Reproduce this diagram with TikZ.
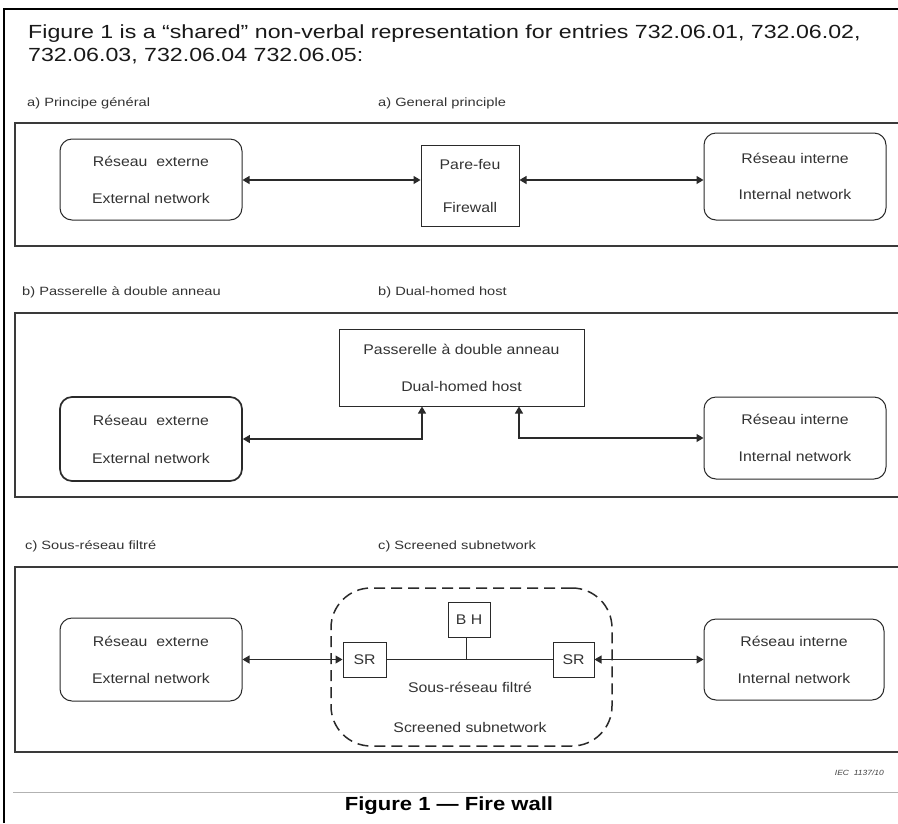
\documentclass[tikz,border=0pt]{standalone}
\usepackage{fontspec}
\setmainfont{Liberation Sans}
\newfontfamily\dfont[FakeStretch=1.13]{Liberation Sans}
\newfontfamily\sfontx[FakeStretch=1.22]{Liberation Sans}
\newfontfamily\hfont[FakeStretch=1.16]{Liberation Sans}
\newfontfamily\hhfont[FakeStretch=1.22]{Liberation Sans}
\usetikzlibrary{arrows.meta,calc}
\definecolor{lc}{HTML}{2A2A2A}
\definecolor{tc}{HTML}{333333}
\definecolor{pc}{HTML}{3A3A3A}
\begin{document}
\begin{tikzpicture}[x=1pt,y=-1pt,
  box/.style={draw=lc, line width=1pt, align=center, font=\dfont\fontsize{14}{37}\selectfont, text=tc, inner sep=0pt},
  rbox/.style={box, rounded corners=12pt},
  smallbox/.style={box, font=\dfont\fontsize{14}{16}\selectfont},
  arr/.style={line width=1.1pt, draw=lc, {Triangle[length=7pt,width=8pt]}-{Triangle[length=7pt,width=8pt]}},
  panel/.style={draw=pc, line width=1.3pt},
  sec/.style={font=\sfontx\fontsize{12}{14}\selectfont, text=tc, anchor=west, inner sep=0pt},
  head/.style={font=\hhfont\fontsize{19}{21}\selectfont, text=black!90, anchor=west, inner sep=0pt},
]
\useasboundingbox (0,0) rectangle (898,823);
\fill[white] (0,0) rectangle (898,823);
% outer frame
\draw[line width=2pt, black] (4,823) -- (4,9) -- (900,9);
% header
\node[head] (h1) at (28,34) {Figure 1 is a “shared” non-verbal representation for entries 732.06.01, 732.06.02,};
\node[head] (h2) at (28,56) {732.06.03, 732.06.04 732.06.05:};
% ---------- panel a
\node[sec] (la1) at (27,103) {a) Principe général};
\node[sec] (la2) at (378,103) {a) General principle};
\draw[panel] (902,123) -- (15,123) -- (15,246) -- (902,246);
\node[rbox, minimum width=182pt, minimum height=81pt] (extA) at (151,179.5) {Réseau\ \ externe\\External network};
\node[box, minimum width=98pt, minimum height=81pt, font=\dfont\fontsize{14}{43}\selectfont] (fwA) at (470,185.5) {Pare-feu\\Firewall};
\node[rbox, minimum width=182pt, minimum height=87pt, font=\dfont\fontsize{14}{36}\selectfont] (intA) at (795,176.5) {Réseau interne\\Internal network};
\draw[arr] (extA.east |- 0,180) -- (fwA.west |- 0,180);
\draw[arr] (fwA.east |- 0,180) -- (intA.west |- 0,180);
% ---------- panel b
\node[sec] (lb1) at (22,292) {b) Passerelle à double anneau};
\node[sec] (lb2) at (378,292) {b) Dual-homed host};
\draw[panel] (902,313) -- (15,313) -- (15,497) -- (902,497);
\node[box, minimum width=245pt, minimum height=77pt] (hostB) at (461.5,367.5) {Passerelle à double anneau\\Dual-homed host};
\node[rbox, line width=1.7pt, minimum width=182pt, minimum height=84pt, font=\dfont\fontsize{14}{38}\selectfont] (extB) at (151,439) {Réseau\ \ externe\\External network};
\node[rbox, minimum width=182pt, minimum height=82pt] (intB) at (795,438) {Réseau interne\\Internal network};
\draw[arr] (extB.east) -| ([xshift=-39.5pt]hostB.south);
\draw[arr] ([xshift=57.5pt]hostB.south) |- (intB.west);
% ---------- panel c
\node[sec] (lc1) at (25,546) {c) Sous-réseau filtré};
\node[sec] (lc2) at (378,546) {c) Screened subnetwork};
\draw[panel] (902,567) -- (15,567) -- (15,752) -- (902,752);
\node[draw=lc, line width=1.5pt, dash pattern=on 11pt off 6pt, rounded corners=40pt, minimum width=281pt, minimum height=158pt, inner sep=0pt] (zone) at (471.5,667) {};
\node[rbox, minimum width=182pt, minimum height=83pt] (extC) at (151,659.5) {Réseau\ \ externe\\External network};
\node[rbox, minimum width=180pt, minimum height=81pt] (intC) at (794,659.5) {Réseau interne\\Internal network};
\node[smallbox, minimum width=43pt, minimum height=35pt] (srL) at (364.5,659.5) {SR};
\node[smallbox, minimum width=41pt, minimum height=35pt] (srR) at (573.5,659.5) {SR};
\node[smallbox, minimum width=42pt, minimum height=35pt] (bh) at (469,619.5) {B H};
\node[font=\dfont\fontsize{14}{40}\selectfont, text=tc, align=center, inner sep=0pt] (subtxt) at (470,707) {Sous-réseau filtré\\Screened subnetwork};
\draw[line width=1pt, draw=lc] (srL.east) -- (srR.west);
\draw[line width=1pt, draw=lc] ([xshift=-3pt]bh.south) -- ([xshift=-3pt]bh.south |- srL.east);
\draw[arr] (extC.east) -- (srL.west);
\draw[arr] (srR.east) -- (intC.west);
% ---------- footer
\node[font=\dfont\itshape\fontsize{7.5}{9}\selectfont, text=black!75, anchor=east, inner sep=0pt] (iec) at (884,773) {IEC\ \ 1137/10};
\draw[line width=1pt, black!30] (13,792) -- (900,792);
\node[font=\hfont\bfseries\fontsize{19}{21}\selectfont, text=black, inner sep=0pt] (cap) at (449,806) {Figure 1 — Fire wall};
\end{tikzpicture}
\end{document}
